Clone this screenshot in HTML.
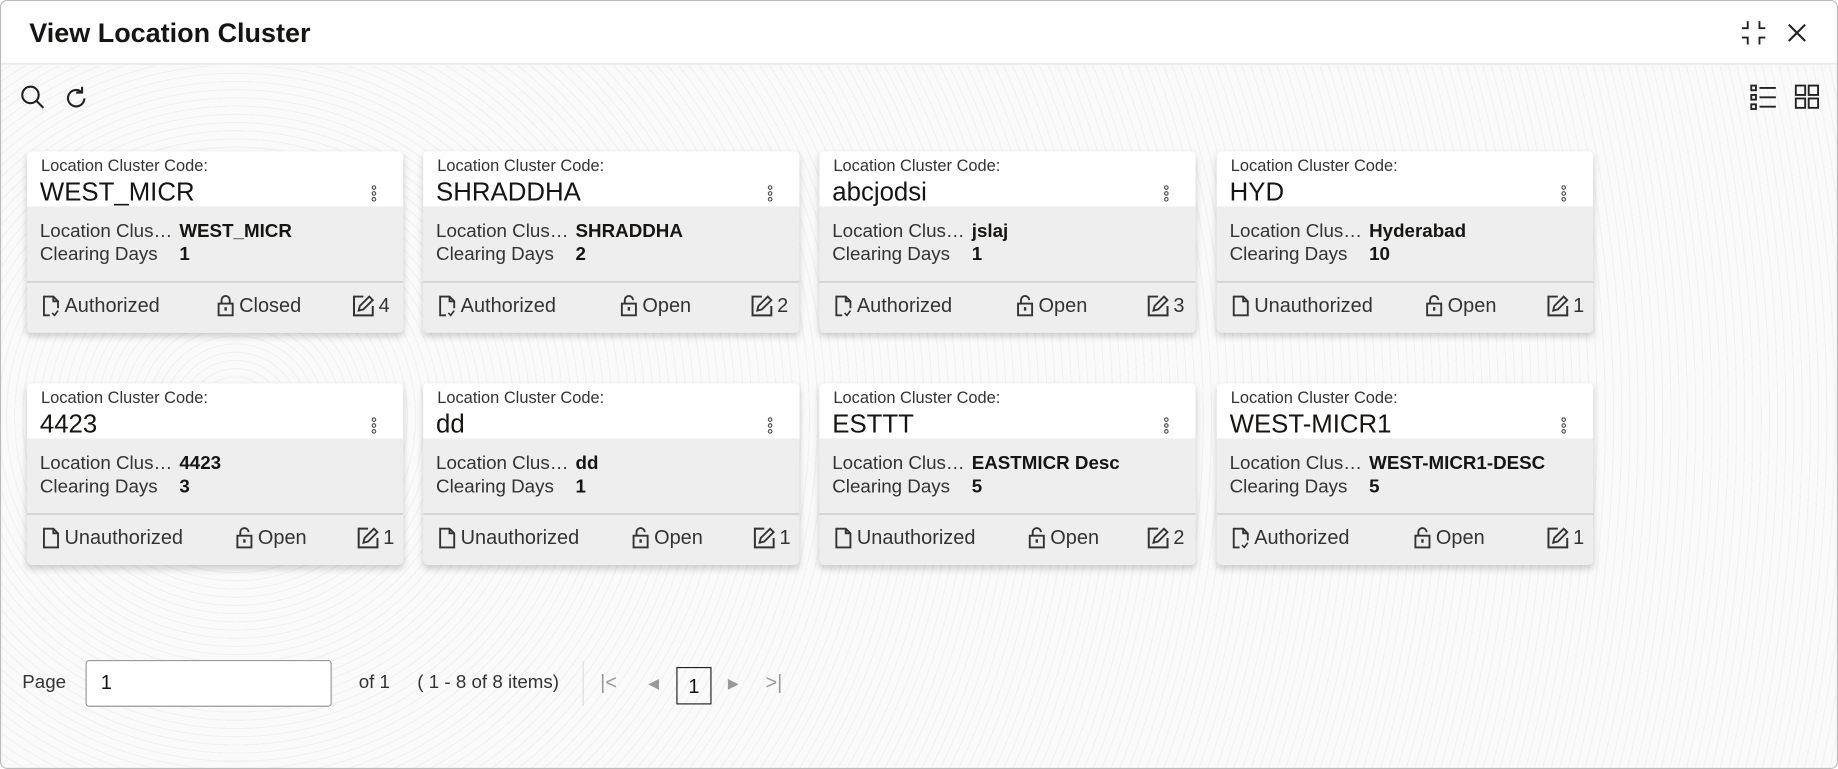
<!DOCTYPE html>
<html><head><meta charset="utf-8"><style>
*{box-sizing:border-box;margin:0;padding:0}
html,body{width:1838px;height:769px;overflow:hidden;background:#fff}
#w{width:1568px;height:656px;transform:scale(1.17219);transform-origin:0 0;position:relative;font-family:"Liberation Sans",sans-serif;color:#161513;background:#fafafa;border:1px solid #bbb;border-radius:6px;overflow:hidden}
.hdr{position:absolute;left:0;top:0;width:100%;height:54px;background:#fff;border-bottom:1px solid #e2e2e2}
.hdr h1{position:absolute;left:24px;top:14px;font-size:23px;font-weight:bold}
.card{position:absolute;width:321px;height:155px;background:#eeeeee;border-radius:4px;box-shadow:0 3px 6px rgba(0,0,0,.18);overflow:hidden}
.top{height:47px;background:#fff;position:relative}
.lbl{position:absolute;left:12px;top:4px;font-size:14px;color:#333}
.code{position:absolute;left:11px;top:22px;font-size:22px}
.keb{position:absolute;left:294px;top:29px;width:4px}
.keb i{display:block;width:4px;height:4px;border:1px solid #555;border-radius:50%;margin-bottom:1px}
.r{position:absolute;left:11px;font-size:16px;color:#333}
.v{position:absolute;left:130px;font-size:16px;font-weight:bold;color:#161513}
.div{position:absolute;left:0;top:111px;width:100%;height:1px;background:#c4c4c4}
.f{position:absolute;top:121px;font-size:17px;color:#333;white-space:nowrap;display:flex;align-items:center;gap:3px;height:22px}
.f svg{flex:none}
.bg{position:absolute;left:0;top:55px;width:100%;height:601px;background:repeating-radial-gradient(circle at 200px 300px,#fafafa 0 6px,#f1f1f1 6px 7px)}
</style></head><body><div id="w">
<svg width="0" height="0" style="position:absolute"><defs>
<symbol id="da" viewBox="0 0 16 20"><path d="M7 18H2V2h8l4 4v6M10 2v4h4" fill="none" stroke="#333" stroke-width="1.6"/><path d="M9 16l2 2 3-4" fill="none" stroke="#333" stroke-width="1.4"/></symbol>
<symbol id="du" viewBox="0 0 16 20"><path d="M2 18V2h8l4 4v12zM10 2v4h4" fill="none" stroke="#333" stroke-width="1.6"/></symbol>
<symbol id="lc" viewBox="0 0 16 20"><rect x="2" y="8" width="12" height="10" fill="none" stroke="#333" stroke-width="1.6"/><path d="M4.5 8V5a3.5 3.5 0 0 1 7 0v3" fill="none" stroke="#333" stroke-width="1.6"/><rect x="7" y="11" width="2" height="3" fill="#333"/></symbol>
<symbol id="lo" viewBox="0 0 16 20"><rect x="2" y="8" width="12" height="10" fill="none" stroke="#333" stroke-width="1.6"/><path d="M4.5 8V5a3.5 3.5 0 0 1 7 0" fill="none" stroke="#333" stroke-width="1.6"/><rect x="7" y="11" width="2" height="3" fill="#333"/></symbol>
<symbol id="ed" viewBox="0 0 20 20"><path d="M10 2H2v16h16v-8" fill="none" stroke="#333" stroke-width="1.7"/><path d="M6 14l1-4 8-8 3 3-8 8z" fill="none" stroke="#333" stroke-width="1.6"/></symbol>
</defs></svg>
<div class="bg"></div>
<div class="hdr"><h1>View Location Cluster</h1>
<svg style="position:absolute;left:1483px;top:15px" width="24" height="24" fill="none" stroke="#222" stroke-width="1.6"><path d="M2 8h5V2M17 2v6h5M2 16h5v6M17 22v-6h5"/></svg>
<svg style="position:absolute;left:1524px;top:19px" width="16" height="16" stroke="#222" stroke-width="1.8"><path d="M1 1L15 15M15 1L1 15"/></svg>
</div>
<svg style="position:absolute;left:16px;top:71px" width="22" height="22" fill="none" stroke="#222" stroke-width="1.8"><circle cx="9" cy="9" r="7"/><path d="M14 14l6 6"/></svg>
<svg style="position:absolute;left:53px;top:72px" width="22" height="22" fill="none" stroke="#222" stroke-width="1.8"><path d="M18 11a7 7 0 1 1-3-6"/><path d="M16 1v5h-5"/></svg>
<svg style="position:absolute;left:1492px;top:71px" width="24" height="22" fill="none" stroke="#222" stroke-width="1.6"><rect x="1" y="1" width="4" height="4"/><rect x="1" y="9" width="4" height="4"/><rect x="1" y="17" width="4" height="4"/><path d="M8 3h14M8 11h14M8 19h14"/></svg>
<svg style="position:absolute;left:1530px;top:71px" width="22" height="22" fill="none" stroke="#222" stroke-width="1.6"><rect x="1" y="1" width="8" height="8"/><rect x="12" y="1" width="8" height="8"/><rect x="1" y="12" width="8" height="8"/><rect x="12" y="12" width="8" height="8"/></svg>

<div class="card" style="left:22px;top:128px"><div class="top"><div class="lbl">Location Cluster Code:</div><div class="code">WEST_MICR</div><div class="keb"><i></i><i></i><i></i></div></div><div class="r" style="top:60px">Location Clus…</div><div class="v" style="top:60px">WEST_MICR</div><div class="r" style="top:80px">Clearing Days</div><div class="v" style="top:80px">1</div><div class="div"></div><div class="f" style="left:12px"><svg width="17" height="20"><use href="#da"/></svg>Authorized</div><div class="f" style="left:161px"><svg width="17" height="20"><use href="#lc"/></svg>Closed</div><div class="f" style="left:277px"><svg width="20" height="20"><use href="#ed"/></svg>4</div></div>

<div class="card" style="left:360px;top:128px"><div class="top"><div class="lbl">Location Cluster Code:</div><div class="code">SHRADDHA</div><div class="keb"><i></i><i></i><i></i></div></div><div class="r" style="top:60px">Location Clus…</div><div class="v" style="top:60px">SHRADDHA</div><div class="r" style="top:80px">Clearing Days</div><div class="v" style="top:80px">2</div><div class="div"></div><div class="f" style="left:12px"><svg width="17" height="20"><use href="#da"/></svg>Authorized</div><div class="f" style="left:167px"><svg width="17" height="20"><use href="#lo"/></svg>Open</div><div class="f" style="left:279px"><svg width="20" height="20"><use href="#ed"/></svg>2</div></div>

<div class="card" style="left:698px;top:128px"><div class="top"><div class="lbl">Location Cluster Code:</div><div class="code">abcjodsi</div><div class="keb"><i></i><i></i><i></i></div></div><div class="r" style="top:60px">Location Clus…</div><div class="v" style="top:60px">jslaj</div><div class="r" style="top:80px">Clearing Days</div><div class="v" style="top:80px">1</div><div class="div"></div><div class="f" style="left:12px"><svg width="17" height="20"><use href="#da"/></svg>Authorized</div><div class="f" style="left:167px"><svg width="17" height="20"><use href="#lo"/></svg>Open</div><div class="f" style="left:279px"><svg width="20" height="20"><use href="#ed"/></svg>3</div></div>

<div class="card" style="left:1037px;top:128px"><div class="top"><div class="lbl">Location Cluster Code:</div><div class="code">HYD</div><div class="keb"><i></i><i></i><i></i></div></div><div class="r" style="top:60px">Location Clus…</div><div class="v" style="top:60px">Hyderabad</div><div class="r" style="top:80px">Clearing Days</div><div class="v" style="top:80px">10</div><div class="div"></div><div class="f" style="left:12px"><svg width="17" height="20"><use href="#du"/></svg>Unauthorized</div><div class="f" style="left:177px"><svg width="17" height="20"><use href="#lo"/></svg>Open</div><div class="f" style="left:281px"><svg width="20" height="20"><use href="#ed"/></svg>1</div></div>

<div class="card" style="left:22px;top:326px"><div class="top"><div class="lbl">Location Cluster Code:</div><div class="code">4423</div><div class="keb"><i></i><i></i><i></i></div></div><div class="r" style="top:60px">Location Clus…</div><div class="v" style="top:60px">4423</div><div class="r" style="top:80px">Clearing Days</div><div class="v" style="top:80px">3</div><div class="div"></div><div class="f" style="left:12px"><svg width="17" height="20"><use href="#du"/></svg>Unauthorized</div><div class="f" style="left:177px"><svg width="17" height="20"><use href="#lo"/></svg>Open</div><div class="f" style="left:281px"><svg width="20" height="20"><use href="#ed"/></svg>1</div></div>

<div class="card" style="left:360px;top:326px"><div class="top"><div class="lbl">Location Cluster Code:</div><div class="code">dd</div><div class="keb"><i></i><i></i><i></i></div></div><div class="r" style="top:60px">Location Clus…</div><div class="v" style="top:60px">dd</div><div class="r" style="top:80px">Clearing Days</div><div class="v" style="top:80px">1</div><div class="div"></div><div class="f" style="left:12px"><svg width="17" height="20"><use href="#du"/></svg>Unauthorized</div><div class="f" style="left:177px"><svg width="17" height="20"><use href="#lo"/></svg>Open</div><div class="f" style="left:281px"><svg width="20" height="20"><use href="#ed"/></svg>1</div></div>

<div class="card" style="left:698px;top:326px"><div class="top"><div class="lbl">Location Cluster Code:</div><div class="code">ESTTT</div><div class="keb"><i></i><i></i><i></i></div></div><div class="r" style="top:60px">Location Clus…</div><div class="v" style="top:60px">EASTMICR Desc</div><div class="r" style="top:80px">Clearing Days</div><div class="v" style="top:80px">5</div><div class="div"></div><div class="f" style="left:12px"><svg width="17" height="20"><use href="#du"/></svg>Unauthorized</div><div class="f" style="left:177px"><svg width="17" height="20"><use href="#lo"/></svg>Open</div><div class="f" style="left:279px"><svg width="20" height="20"><use href="#ed"/></svg>2</div></div>

<div class="card" style="left:1037px;top:326px"><div class="top"><div class="lbl">Location Cluster Code:</div><div class="code">WEST-MICR1</div><div class="keb"><i></i><i></i><i></i></div></div><div class="r" style="top:60px">Location Clus…</div><div class="v" style="top:60px">WEST-MICR1-DESC</div><div class="r" style="top:80px">Clearing Days</div><div class="v" style="top:80px">5</div><div class="div"></div><div class="f" style="left:12px"><svg width="17" height="20"><use href="#da"/></svg>Authorized</div><div class="f" style="left:167px"><svg width="17" height="20"><use href="#lo"/></svg>Open</div><div class="f" style="left:281px"><svg width="20" height="20"><use href="#ed"/></svg>1</div></div>

<div style="position:absolute;left:18px;top:573px;font-size:16px;color:#333">Page</div>
<div style="position:absolute;left:72px;top:562px;width:210px;height:40px;background:#fff;border:1px solid #999;border-radius:3px;font-size:17px;padding:9px 12px">1</div>
<div style="position:absolute;left:305px;top:573px;font-size:16px;color:#333">of 1</div>
<div style="position:absolute;left:355px;top:573px;font-size:16px;color:#333">( 1 - 8 of 8 items)</div>
<div style="position:absolute;left:496px;top:563px;width:1px;height:38px;background:#ddd"></div>
<div style="position:absolute;left:511px;top:572px;font-size:17px;color:#999">|&lt;</div>
<div style="position:absolute;left:552px;top:575px;font-size:12px;color:#999">◀</div>
<div style="position:absolute;left:576px;top:568px;width:30px;height:32px;border:1px solid #222;font-size:17px;text-align:center;padding-top:6px">1</div>
<div style="position:absolute;left:620px;top:575px;font-size:12px;color:#999">▶</div>
<div style="position:absolute;left:652px;top:572px;font-size:17px;color:#999">&gt;|</div>
</div></body></html>
